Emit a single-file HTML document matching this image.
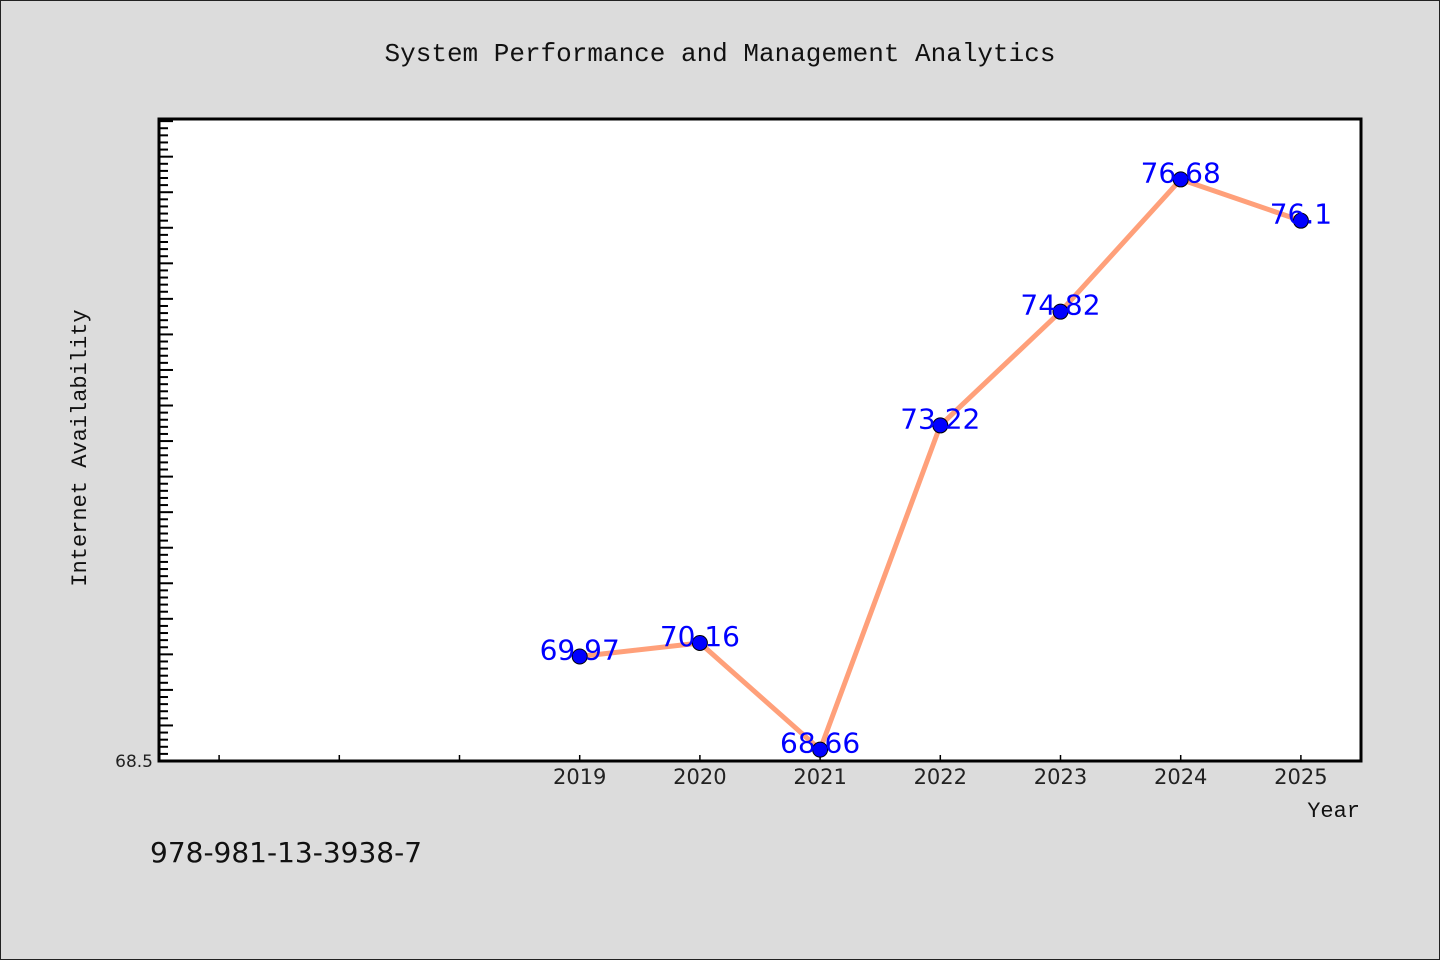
<!DOCTYPE html>
<html><head><meta charset="utf-8"><style>
body{margin:0;background:#dcdcdc;}
svg{display:block;font-family:"WenQuanYi Zen Hei","DejaVu Sans",sans-serif;}
</style></head><body>
<svg id="chart" width="1440" height="960">
<rect x="0.5" y="0.5" width="1439" height="959" fill="#dcdcdc" stroke="#222" stroke-width="1"/>
<text x="720" y="61" text-anchor="middle" font-size="26" font-family="'Liberation Mono',monospace" fill="#111">System Performance and Management Analytics</text>
<rect x="159" y="119" width="1202" height="642" fill="#fff"/>
<g id="ticks"></g>
<g id="series"></g>
<rect x="159" y="119" width="1202" height="642" fill="none" stroke="#000" stroke-width="3"/>
<text x="153" y="767" text-anchor="end" font-size="17" fill="#222">68.5</text>
<text x="86" y="448" text-anchor="middle" font-size="22" font-family="'Liberation Mono',monospace" fill="#111" transform="rotate(-90 86 448)">Internet Availability</text>
<text x="1360" y="817" text-anchor="end" font-size="22" font-family="'Liberation Mono',monospace" fill="#111">Year</text>
<text x="150" y="862" font-size="28" fill="#111">978-981-13-3938-7</text>
</svg>
<script>
const years=[2019,2020,2021,2022,2023,2024,2025];
const values=[69.97,70.16,68.66,73.22,74.82,76.68,76.1];
const labels=["69.97","70.16","68.66","73.22","74.82","76.68","76.1"];
const minorYears=[2016,2017,2018];
const X0=159,X1=1361,Y0=761,Y1=119,xmin=2015.5,xmax=2025.5,ymin=68.5,ymax=77.53;
const xs=v=>X0+(v-xmin)/(xmax-xmin)*(X1-X0);
const ys=v=>Y0-(v-ymin)/(ymax-ymin)*(Y0-Y1);
const NS="http://www.w3.org/2000/svg";
const tg=document.getElementById('ticks'),sg=document.getElementById('series');
function mk(t,a,p){const e=document.createElementNS(NS,t);for(const k in a)e.setAttribute(k,a[k]);p.appendChild(e);return e;}
for(let i=1;i<=90;i++){const v=ymin+i*0.1;if(v>ymax)break;const y=ys(v);const major=i%5===0;
const l=mk('line',{x1:X0,x2:X0+(major?14:9),y1:y,y2:y,stroke:'#000','stroke-width':2},tg);

}
minorYears.concat(years).forEach(yr=>{const x=xs(yr);
const l=mk('line',{x1:x,x2:x,y1:Y0,y2:Y0-6,stroke:'#000','stroke-width':1.5},tg);

});
years.forEach(yr=>{const t=mk('text',{x:xs(yr),y:784,'text-anchor':'middle','font-size':21,fill:'#222'},tg);t.textContent=yr;

});
const pl=mk('polyline',{points:years.map((y,i)=>xs(y)+','+ys(values[i])).join(' '),fill:'none',stroke:'#ffa07a','stroke-width':5},sg);


years.forEach((yr,i)=>{const c=mk('circle',{cx:xs(yr),cy:ys(values[i]),r:7.5,fill:'#0000ff',stroke:'#000','stroke-width':1},sg);


const t=mk('text',{x:xs(yr),y:ys(values[i])+3,'text-anchor':'middle','font-size':28,fill:'#0000ff'},sg);t.textContent=labels[i];

});
</script>
</body></html>
